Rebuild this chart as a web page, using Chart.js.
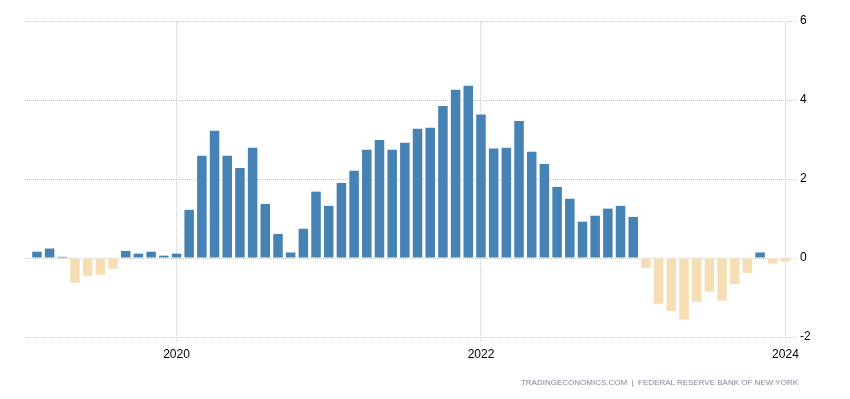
<!DOCTYPE html>
<html>
<head>
<meta charset="utf-8">
<script src="https://cdn.jsdelivr.net/npm/chart.js@4"></script>
<style>
  body { margin: 0; background: #fff; }
  #wrap { position: relative; width: 850px; height: 399px; }
  #source {
    position: absolute; right: 52px; top: 378px;
    font: 8px "Liberation Sans", Arial, sans-serif;
    color: #858598; white-space: pre;
  }
</style>
</head>
<body>
<div id="wrap">
  <canvas id="chart" width="850" height="399"></canvas>
  <div id="source">TRADINGECONOMICS.COM  |  FEDERAL RESERVE BANK OF NEW YORK</div>
</div>
<script>
// monthly values, Feb 2019 .. Jan 2024
const months = [
  '2019-02','2019-03','2019-04','2019-05','2019-06','2019-07','2019-08','2019-09','2019-10','2019-11','2019-12',
  '2020-01','2020-02','2020-03','2020-04','2020-05','2020-06','2020-07','2020-08','2020-09','2020-10','2020-11','2020-12',
  '2021-01','2021-02','2021-03','2021-04','2021-05','2021-06','2021-07','2021-08','2021-09','2021-10','2021-11','2021-12',
  '2022-01','2022-02','2022-03','2022-04','2022-05','2022-06','2022-07','2022-08','2022-09','2022-10','2022-11','2022-12',
  '2023-01','2023-02','2023-03','2023-04','2023-05','2023-06','2023-07','2023-08','2023-09','2023-10','2023-11','2023-12',
  '2024-01'
];
const values = [
  0.16, 0.24, 0.03, -0.63, -0.45, -0.42, -0.27, 0.18, 0.11, 0.16, 0.06,
  0.11, 1.22, 2.59, 3.22, 2.59, 2.28, 2.79, 1.37, 0.61, 0.14, 0.74, 1.68,
  1.32, 1.90, 2.21, 2.74, 2.99, 2.74, 2.92, 3.27, 3.30, 3.85, 4.26, 4.36,
  3.63, 2.77, 2.79, 3.47, 2.69, 2.38, 1.80, 1.50, 0.92, 1.07, 1.25, 1.32,
  1.04, -0.25, -1.16, -1.34, -1.56, -1.11, -0.85, -1.08, -0.66, -0.38, 0.14, -0.14,
  -0.09
];
const xTickLabels = ['2020', '2022', '2024'];
const xTickMonths = ['2020-01', '2022-01', '2024-01'];
const yTicks = [-2, 0, 2, 4, 6];

const gridColor = '#cccccc';
const font = { family: '"Liberation Sans", Arial, sans-serif', size: 12 };

new Chart(document.getElementById('chart'), {
  type: 'bar',
  data: {
    datasets: [{
      data: values.map((v, i) => ({ x: i, y: v })),
      backgroundColor: ctx => ctx.raw && ctx.raw.y < 0 ? '#F5DEB3' : '#4682B4',
      barPercentage: 0.75,
      categoryPercentage: 1
    }]
  },
  options: {
    responsive: false,
    animation: false,
    layout: { padding: { left: 25, top: 21, right: 0, bottom: 0 } },
    plugins: { legend: { display: false }, tooltip: { enabled: false } },
    scales: {
      x: {
        type: 'linear',
        offset: false,
        min: -0.94,
        max: 59.83,
        afterFit: s => { s.height = 62; },
        afterBuildTicks: s => {
          s.ticks = xTickMonths.map(m => ({ value: months.indexOf(m) }));
        },
        grid: {
          offset: false,
          color: gridColor,
          tickBorderDash: [1, 1],
          tickColor: gridColor,
          tickLength: 6
        },
        border: { display: false, dash: [1, 1] },
        ticks: {
          color: '#000',
          font: font,
          padding: 4,
          maxRotation: 0,
          callback: v => xTickLabels[xTickMonths.indexOf(months[v])]
        }
      },
      y: {
        position: 'right',
        min: -2,
        max: 6,
        afterFit: s => { s.width = 54; },
        afterBuildTicks: s => { s.ticks = yTicks.map(v => ({ value: v })); },
        grid: { color: gridColor, drawTicks: false },
        border: { display: false, dash: [1, 1] },
        ticks: { color: '#000', font: font, padding: 4 }
      }
    }
  }
});
</script>
</body>
</html>
